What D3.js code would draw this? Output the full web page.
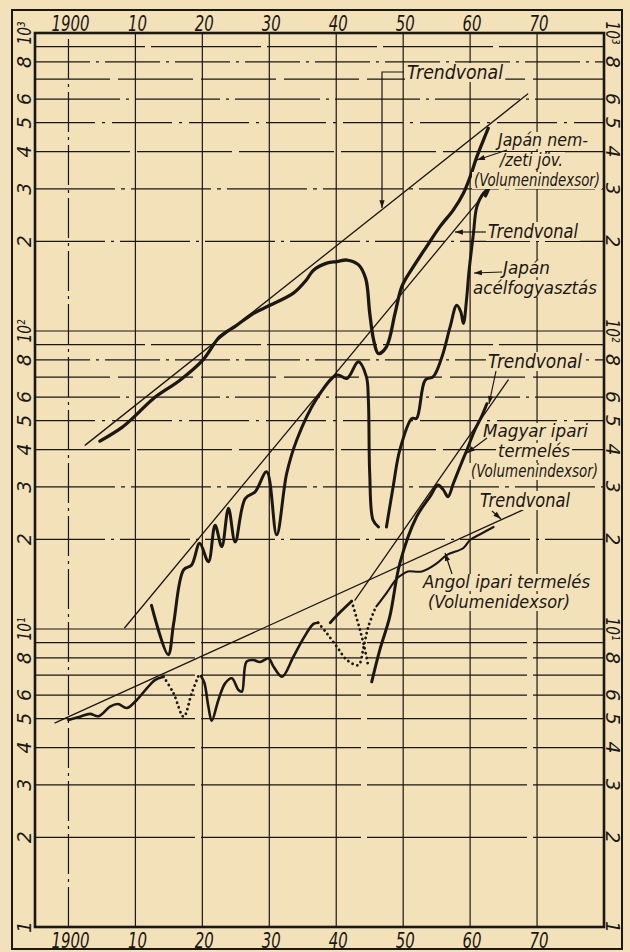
<!DOCTYPE html>
<html lang="hu">
<head>
<meta charset="UTF-8">
<title>Trendvonalak</title>
<script src="https://d3js.org/d3.v7.min.js"></script>
<style>
  body { margin: 0; background: #f3e1ba; }
  svg { display: block; }
  .lbl {
    font-family: "DejaVu Sans Condensed", "DejaVu Sans", sans-serif;
    font-style: oblique;
    fill: #1b1712;
  }
</style>
</head>
<body>
<svg width="630" height="952"></svg>
<script>
// ---- data (year, index value) ----
const decadeYears = [1900, 1910, 1920, 1930, 1940, 1950, 1960, 1970];
const yearLabels = ["1900", "10", "20", "30", "40", "50", "60", "70"];
const gridMultipliers = [2, 3, 4, 5, 6, 7, 8, 9];
const gridDecades = [1, 10, 100];
const tickValues = [1, 2, 3, 4, 5, 6, 8, 10, 20, 30, 40, 50, 60, 80, 100, 200, 300, 400, 500, 600, 800, 1000];
const tickLabels = ["1", "2", "3", "4", "5", "6", "8", "10¹", "2", "3", "4", "5", "6", "8", "10²", "2", "3", "4", "5", "6", "8", "10³"];

// Japán nemzeti jövedelem (volumenindex)
const japanIncome = [
  [1904.7, 42.7], [1908, 47.5], [1910, 52], [1912.7, 59.4], [1916.7, 68.5], [1920.1, 80],
  [1922.6, 95.7], [1925, 104], [1927.6, 114.5], [1930.1, 122], [1933.6, 134], [1935.5, 148],
  [1936.6, 160], [1938.6, 169], [1940.1, 171], [1941.6, 173], [1943.3, 167], [1944.4, 150],
  [1945, 115], [1945.6, 93], [1946.3, 84], [1947.5, 88.5], [1948.8, 115], [1949.8, 141],
  [1951.5, 164], [1953.5, 192], [1955.5, 224], [1957.5, 255], [1959, 290], [1960, 329],
  [1961, 384], [1962, 438], [1962.7, 479]
];

// Japán acélfogyasztás
const japanSteelA = [
  [1912.4, 12.0], [1914.9, 8.2], [1915.7, 10.4], [1917.2, 15.8], [1918.4, 16.4], [1919.6, 19.4],
  [1920.9, 16.8], [1921.9, 22.3], [1922.9, 18.9], [1923.9, 25.4], [1924.9, 19.6], [1926.4, 27.4],
  [1927.9, 28.9], [1929.6, 33.7], [1931.1, 20.7], [1932.6, 33.3], [1934.1, 43.1], [1937.1, 59.4],
  [1940.1, 71.2], [1941.6, 69.3], [1943.3, 78.8], [1944.5, 70.3], [1944.8, 58.7], [1945.0, 33.3],
  [1945.5, 23.2], [1946.3, 22.0]
];
const japanSteelB = [
  [1947.5, 22.0], [1948.5, 30], [1949.5, 39.9], [1951.3, 50.9], [1952, 50.9], [1953.3, 68.5],
  [1954.5, 70.3], [1955.8, 82], [1957, 103], [1958, 122], [1958.6, 116], [1959, 106],
  [1959.5, 130], [1959.8, 156], [1960.5, 213], [1961, 261], [1962, 290], [1962.8, 300], [1962.3, 284]
];

// Angol ipari termelés
const englandA = [
  [1900, 4.95], [1901.7, 5.08], [1903.2, 5.19], [1904.5, 5.1], [1906.2, 5.49], [1907.4, 5.6],
  [1908.7, 5.43], [1910.2, 5.78], [1911.7, 6.32], [1912.9, 6.74], [1914.2, 6.92]
];
const englandWar1 = [[1914.2, 6.92], [1915.7, 6.08], [1917.2, 5.08], [1918.4, 6.08], [1919.4, 6.95]];
const englandB = [
  [1919.8, 6.95], [1920.3, 6.6], [1920.9, 5.49], [1921.4, 4.92], [1922.4, 5.78], [1923.4, 6.57],
  [1924.4, 6.83], [1925.4, 6.24], [1925.9, 6.16], [1926.6, 7.77], [1927.6, 7.87], [1928.6, 7.75],
  [1929.9, 7.97], [1930.6, 7.5], [1931.9, 6.92], [1933.6, 8.07], [1935.1, 9.3], [1936.6, 10.4],
  [1937.3, 10.5]
];
const englandWar2 = [
  [1937.3, 10.5], [1938.6, 9.67], [1940.1, 8.72], [1941.6, 7.87], [1943.3, 7.57], [1944.1, 8.72],
  [1944.8, 10.2], [1945.8, 11.7]
];
const englandC = [
  [1946, 11.9], [1947.5, 13.2], [1949.1, 14.8], [1950, 15.3], [1950.7, 15.6], [1952.8, 15.6],
  [1955, 16.6], [1956.5, 17.7], [1959, 18.7], [1960, 19.9], [1961.5, 20.8], [1963.5, 22.0]
];

// Magyar ipari termelés
const hungaryA = [[1939.1, 10.5], [1940.6, 11.4], [1942.3, 12.4]];
const hungaryWar = [[1942.3, 12.4], [1943.4, 10.2], [1944.2, 8.7], [1944.8, 7.47]];
const hungaryB = [
  [1945.3, 6.65], [1946.5, 8.5], [1948, 11], [1949.5, 16.6], [1952, 23.8], [1954, 27.8],
  [1955.2, 30.4], [1956, 29.3], [1956.7, 27.8], [1957.5, 30.8], [1958.5, 35.1], [1959.5, 39.8],
  [1960.7, 46.5], [1961.7, 51.6], [1962.5, 57]
];

// trendvonalak (start, end)
const trendJapanIncome = [[1902.5, 41.4], [1968.6, 624]];
const trendJapanSteel = [[1908.4, 10.1], [1962.6, 297]];
const trendHungary = [[1942.8, 12.5], [1965.7, 68.5]];
const trendEngland = [[1898.0, 4.84], [1967.9, 25.1]];

// ---- drawing ----
const ink = "#1b1712";
const paper = "#f3e1ba";
const svg = d3.select("svg");

const x = d3.scaleLinear().domain([1895, 1980]).range([35, 604]);
const y = d3.scaleLog().domain([1, 1000]).range([927, 33]);

svg.append("rect").attr("width", 630).attr("height", 952).attr("fill", paper);

const defs = svg.append("defs");
defs.append("marker")
  .attr("id", "arrow")
  .attr("viewBox", "-1 -4 11 8")
  .attr("refX", 9).attr("refY", 0)
  .attr("markerUnits", "userSpaceOnUse")
  .attr("markerWidth", 10).attr("markerHeight", 7)
  .attr("orient", "auto-start-reverse")
  .append("path").attr("d", "M0,-3L9,0L0,3Z").attr("fill", ink);

// grid
const dashByMult = {2: "70,6,3,6", 3: "80,6,4,6", 4: "95,7", 5: "60,7,3,7", 6: "85,6,3,6", 7: "75,8", 8: "55,6,3,6", 9: "110,6"};
const grid = svg.append("g").attr("stroke", ink).attr("stroke-width", 1.2).attr("fill", "none");

gridDecades.forEach(function (dec) {
  gridMultipliers.forEach(function (m) {
    grid.append("line")
      .attr("x1", x.range()[0]).attr("x2", x.range()[1])
      .attr("y1", y(dec * m)).attr("y2", y(dec * m))
      .attr("stroke-dasharray", dec === 1 ? "160,6" : dashByMult[m]);
  });
  if (dec > 1) {
    grid.append("line")
      .attr("x1", x.range()[0]).attr("x2", x.range()[1])
      .attr("y1", y(dec)).attr("y2", y(dec));
  }
});

grid.selectAll(".vgrid")
  .data(decadeYears)
  .enter().append("line")
  .attr("class", "vgrid")
  .attr("x1", d => x(d)).attr("x2", d => x(d))
  .attr("y1", y.range()[0]).attr("y2", y.range()[1])
  .attr("stroke-dasharray", d => d === 1900 ? "40,5,3,5" : null);

// frames
svg.append("rect")
  .attr("x", 12).attr("y", 10).attr("width", 610).attr("height", 939)
  .attr("fill", "none").attr("stroke", ink).attr("stroke-width", 2);
svg.append("rect")
  .attr("x", x.range()[0]).attr("y", y.range()[1])
  .attr("width", x.range()[1] - x.range()[0]).attr("height", y.range()[0] - y.range()[1])
  .attr("fill", "none").attr("stroke", ink).attr("stroke-width", 2.6);

// axis labels
const labels = svg.append("g").attr("class", "lbl");

function yearText(yPos) {
  labels.selectAll(null)
    .data(decadeYears)
    .enter().append("text")
    .attr("x", d => x(d) + 2)
    .attr("y", yPos)
    .attr("text-anchor", "middle")
    .attr("font-size", 22)
    .attr("textLength", (d, i) => yearLabels[i].length * 9.5)
    .attr("lengthAdjust", "spacingAndGlyphs")
    .text((d, i) => yearLabels[i]);
}
yearText(31);
yearText(948);

function valueText(xPos, angle) {
  labels.selectAll(null)
    .data(tickValues)
    .enter().append("text")
    .attr("transform", d => "translate(" + xPos + "," + y(d) + ") rotate(" + angle + ")")
    .attr("text-anchor", "middle")
    .attr("dy", "0.36em")
    .attr("font-size", 19)
    .attr("textLength", (d, i) => tickLabels[i].length > 1 ? 23 : 12)
    .attr("lengthAdjust", "spacingAndGlyphs")
    .text((d, i) => tickLabels[i]);
}
valueText(24, -90);
valueText(613, 90);

// trend lines
const plot = svg.append("g").attr("fill", "none").attr("stroke", ink)
  .attr("stroke-linejoin", "round").attr("stroke-linecap", "round");

[trendJapanIncome, trendJapanSteel, trendHungary, trendEngland].forEach(function (t) {
  plot.append("line")
    .attr("x1", x(t[0][0])).attr("y1", y(t[0][1]))
    .attr("x2", x(t[1][0])).attr("y2", y(t[1][1]))
    .attr("stroke-width", 1.3);
});

// series
const line = d3.line()
  .x(d => x(d[0]))
  .y(d => y(d[1]))
  .curve(d3.curveCatmullRom.alpha(0.5));

const segments = [
  {data: japanIncome, w: 3.3},
  {data: japanSteelA, w: 3.0},
  {data: japanSteelB, w: 3.0},
  {data: englandA, w: 2.6},
  {data: englandWar1, w: 2.8, dotted: true},
  {data: englandB, w: 2.6},
  {data: englandWar2, w: 2.8, dotted: true},
  {data: englandC, w: 2.1},
  {data: hungaryA, w: 2.8},
  {data: hungaryWar, w: 2.8, dotted: true},
  {data: hungaryB, w: 3.0}
];

segments.forEach(function (s) {
  plot.append("path")
    .attr("d", line(s.data))
    .attr("stroke-width", s.w)
    .attr("stroke-dasharray", s.dotted ? "0.1,4.8" : null);
});

// annotations
const notes = [
  {x: 407, y: [79], lines: ["Trendvonal"], w: [96], leader: [[382, 208], [382, 72], [404, 72]]},
  {x: 498, y: [146, 166, 186], lines: ["Japán nem-", "/zeti jöv.", "(Volumenindexsor)"], w: [90, 63, 126], xs: [0, 2, -24], leader: [[477, 160], [507, 150]]},
  {x: 488, y: [238], lines: ["Trendvonal"], w: [90], leader: [[455, 232], [486, 232]]},
  {x: 503, y: [274, 294], lines: ["Japán", "acélfogyasztás"], w: [47, 124], xs: [0, -30], leader: [[474, 273], [502, 272]]},
  {x: 488, y: [368], lines: ["Trendvonal"], w: [94], leader: [[489, 404], [496, 371]]},
  {x: 483, y: [437, 457, 477], lines: ["Magyar ipari", "termelés", "(Volumenindexsor)"], w: [105, 72, 127], xs: [0, 15, -12], leader: [[467, 453], [487, 438]]},
  {x: 480, y: [507], lines: ["Trendvonal"], w: [90], leader: [[501, 519], [492, 511]]},
  {x: 423, y: [588, 608], lines: ["Angol ipari termelés", "(Volumenidexsor)"], w: [167, 142], xs: [0, 5], leader: [[445, 553], [452, 574]]}
];

const noteG = svg.append("g");
notes.forEach(function (n) {
  n.lines.forEach(function (txt, i) {
    const t = noteG.append("text")
      .attr("class", "lbl")
      .attr("x", n.x + (n.xs ? n.xs[i] : 0))
      .attr("y", n.y[i])
      .attr("font-size", n.lines.length > 1 ? 17 : 19)
      .attr("textLength", n.w[i])
      .attr("lengthAdjust", "spacingAndGlyphs")
      .text(txt);
    const b = t.node().getBBox();
    noteG.insert("rect", function () { return t.node(); })
      .attr("x", b.x - 2).attr("y", b.y + 2)
      .attr("width", b.width + 4).attr("height", b.height - 3)
      .attr("fill", paper);
  });
  noteG.append("path")
    .attr("d", d3.line()(n.leader))
    .attr("fill", "none")
    .attr("stroke", ink)
    .attr("stroke-width", 1.2)
    .attr("marker-start", "url(#arrow)");
});
</script>
</body>
</html>
